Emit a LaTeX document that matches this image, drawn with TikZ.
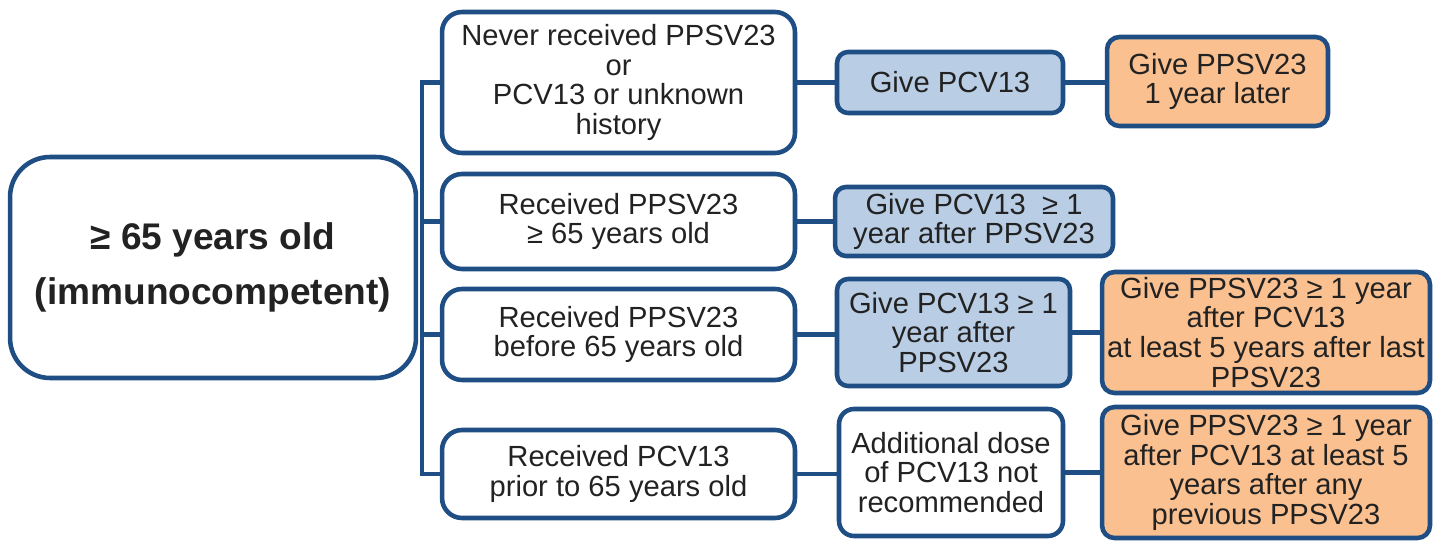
\documentclass[tikz,border=0pt]{standalone}
\usepackage{fontspec}
\setmainfont{Liberation Sans}
\definecolor{edge}{HTML}{1F4E85}
\definecolor{bluefill}{HTML}{B9CDE5}
\definecolor{orangefill}{HTML}{FAC090}
\definecolor{txt}{HTML}{222222}
\begin{document}
\begin{tikzpicture}[x=0.02cm,y=-0.02cm,
  box/.style={draw=edge, line width=2.6pt, align=center, inner sep=0pt, text=txt,
    font=\fontsize{16.6}{17}\selectfont},
  mainbox/.style={box, fill=white, rounded corners=0.8cm,
    font=\fontsize{21.1}{31}\selectfont\bfseries},
  condbox/.style={box, fill=white, rounded corners=0.4cm, minimum width=7.06cm},
  bluebox/.style={box, fill=bluefill, rounded corners=0.22cm},
  whitebox/.style={box, fill=white, rounded corners=0.3cm},
  orangebox/.style={box, fill=orangefill, rounded corners=0.25cm},
  link/.style={draw=edge, line width=2.4pt}]
\useasboundingbox (0,0) rectangle (1437,541);
\fill[white] (0,0) rectangle (1437,541);

\coordinate (bus) at (422,0);

\node[condbox, minimum height=2.82cm] (B1) at (618.5,82.5) {Never received PPSV23\\or\\PCV13 or unknown\\history};
\node[condbox, minimum height=1.90cm] (B2) at (618.5,221.5) {Received PPSV23\\≥ 65 years old};
\node[condbox, minimum height=1.82cm] (B3) at (618.5,334.5) {Received PPSV23\\before 65 years old};
\node[condbox, minimum height=1.76cm] (B4) at (618.5,474) {Received PCV13\\prior to 65 years old};

\node[bluebox, minimum width=4.52cm, minimum height=1.22cm] (C1) at (950,82.5) {Give PCV13};
\node[bluebox, minimum width=5.56cm, minimum height=1.38cm] (C2) at (974,221.5) {Give PCV13 \ ≥ 1\\year after PPSV23};
\node[bluebox, minimum width=4.66cm, minimum height=2.14cm] (C3) at (953.5,332.5) {Give PCV13 ≥ 1\\year after\\PPSV23};
\node[whitebox, minimum width=4.48cm, minimum height=2.54cm] (C4) at (951,472.5) {Additional dose\\of PCV13 not\\recommended};

\node[orangebox, minimum width=4.42cm, minimum height=1.78cm] (D1) at (1217.5,81.5) {Give PPSV23\\1 year later};
\node[orangebox, minimum width=6.56cm, minimum height=2.42cm] (D2) at (1266,332.5) {Give PPSV23 ≥ 1 year\\after PCV13\\at least 5 years after last\\PPSV23};
\node[orangebox, minimum width=6.56cm, minimum height=2.62cm] (D3) at (1266,472.5) {Give PPSV23 ≥ 1 year\\after PCV13 at least 5\\years after any\\previous PPSV23};

% bracket
\draw[link] (B1.west) -- (B1.west -| bus) -- (B4.west -| bus) -- (B4.west);
\draw[link] (B2.west) -- (B2.west -| bus);
\draw[link] (B3.west) -- (B3.west -| bus);

% horizontal links
\draw[link] (B1.east) -- (C1.west);
\draw[link] (C1.east) -- (D1.west |- C1.east);
\draw[link] (B2.east) -- (C2.west);
\draw[link] (B3.east) -- (C3.west |- B3.east);
\draw[link] (C3.east) -- (D2.west |- C3.east);
\draw[link] (B4.east) -- (C4.west |- B4.east);
\draw[link] (C4.east) -- (D3.west |- C4.east);

\node[mainbox, minimum width=8.12cm, minimum height=4.42cm] (M) at (213,267.5) {≥ 65 years old\\(immunocompetent)};
\end{tikzpicture}
\end{document}
